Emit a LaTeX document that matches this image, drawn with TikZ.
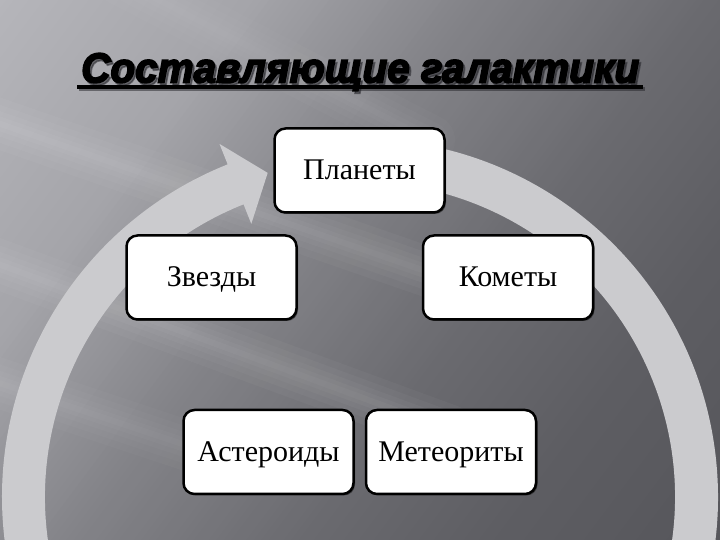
\documentclass[tikz,border=0pt]{standalone}
\usepackage{fontspec}
\usepackage{graphicx}
\setmainfont{Liberation Serif}
\newfontfamily\titlefont{Liberation Sans}[UprightFont={* Bold Italic}, UprightFeatures={FakeBold=4}]
\usetikzlibrary{shadows,calc}
\definecolor{arrowgray}{RGB}{203,203,206}
\definecolor{tshadow}{RGB}{35,35,40}
\newcommand\softstreak[5]{%
  \foreach \ww in {6,14,24,36,50}{%
    \draw[white, draw opacity=#5, line width=\ww pt, line cap=round] (#1,#2) -- (#3,#4);
  }%
}
\tikzset{
  box/.style={draw=black, line width=2.5pt, fill=white, rounded corners=11pt,
    minimum width=170pt, minimum height=84pt, inner sep=0pt,
    text height=19pt, text depth=0pt,
    font=\fontsize{30}{32}\selectfont,
    drop shadow={shadow xshift=1.5pt, shadow yshift=-1.5pt, opacity=0.45, fill=black}},
  titletext/.style={anchor=base west, inner sep=0pt,
    font=\titlefont\fontsize{42}{46}\selectfont}
}
\begin{document}
\begin{tikzpicture}[x=1pt,y=1pt]
\useasboundingbox (0,0) rectangle (720,540);
\clip (0,0) rectangle (720,540);
% background: diagonal gradient from top-left (light) to bottom-right (dark)
\begin{scope}[shift={(0,540)}, rotate=-36.87]
\foreach \p in {0,6,...,900}{%
  \pgfmathtruncatemacro\vv{182 - 0.085*min(\p,200) - 0.1886*max(min(\p,375)-200,0) - 0.1333*max(min(\p,570)-375,0) - 0.08*max(min(\p,720)-570,0) - 0.0444*max(\p-720,0)}%
  \pgfmathtruncatemacro\vb{\vv+5}%
  \definecolor{bgstripe}{RGB}{\vv,\vv,\vb}%
  \fill[bgstripe] (\p-0.5,-900) rectangle (\p+6.5,900);
}
\end{scope}
% light streaks (ends hidden behind the boxes)
\softstreak{-40}{430}{480}{250}{0.03}
\softstreak{-40}{290}{450}{110}{0.03}
\softstreak{-40}{170}{260}{70}{0.025}
\softstreak{120}{560}{430}{400}{0.02}
% circular arrow
\coordinate (ctr) at (360,43);
\fill[arrowgray] ($(ctr)+(95:358pt)$) arc[start angle=95, end angle=-248.3, radius=358pt]
  -- ($(ctr)+(111.7:380pt)$) -- ($(ctr)+(105.9:337pt)$) -- ($(ctr)+(111.7:294pt)$)
  -- ($(ctr)+(111.7:315pt)$) arc[start angle=-248.3, end angle=95, radius=315pt] -- cycle;
% title
\node[titletext, text=tshadow, opacity=0.5] (titleshadow) at (83,455) {\resizebox{558pt}{\height}{Составляющие галактики}};
\fill[tshadow, opacity=0.5] ($(titleshadow.base west)+(-4,-2.5)$) rectangle ($(titleshadow.base east)+(4,-6.5)$);
\node[titletext, text=black] (title) at (81,457.5) {\resizebox{558pt}{\height}{Составляющие галактики}};
\fill[black] ($(title.base west)+(-4,-2.5)$) rectangle ($(title.base east)+(4,-6.5)$);
% boxes
\node[box] (planets) at (359.5,369.5) {Планеты};
\node[box] (stars) at (211.5,262.5) {Звезды};
\node[box] (comets) at (508,262.5) {Кометы};
\node[box] (asteroids) at (268.5,88) {Астероиды};
\node[box] (meteors) at (451,88) {Метеориты};
\end{tikzpicture}
\end{document}
